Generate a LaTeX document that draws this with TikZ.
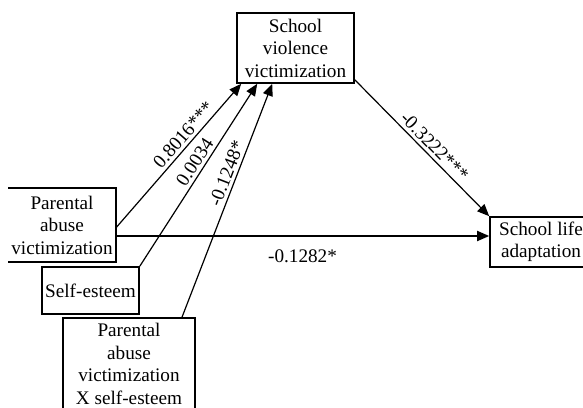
\documentclass[tikz,border=0pt]{standalone}
\usepackage{fontspec}
\setmainfont{Liberation Serif}
\usetikzlibrary{calc,positioning,arrows.meta}

\begin{document}
\begin{tikzpicture}[x=0.5pt,y=-0.5pt,
  varbox/.style={draw,line width=0.8pt,align=center,inner sep=1pt,font=\fontsize{9.6}{11.25}\selectfont},
  link/.style={line width=0.6pt,-{Triangle[length=6pt,width=5pt]}},
  coef/.style={font=\fontsize{9.6}{11.25}\selectfont,sloped,above,inner sep=1.5pt}]
%\draw[step=20,help lines](0,0)grid(583,407);
\clip (0,0) rectangle (583,407);
    \node[varbox,minimum width=58.5pt,minimum height=35pt] (svv) at (295.5,48) {School\\violence\\victimization};
    \node[varbox,draw=none,minimum width=53pt,minimum height=36pt] (pav) at (62,225) {Parental\\abuse\\victimization};
    \draw[line width=0.8pt] (pav.north west)--(pav.north east)--(pav.south east)--(pav.south west);
    \node[varbox,minimum width=48.5pt,minimum height=23.5pt] (se) at (90.5,290.5) {Self-esteem};
    \node[varbox,minimum width=66pt,minimum height=46pt] (ix) at (129,364) {Parental\\abuse\\victimization\\X self-esteem};
    \node[varbox,minimum width=51pt,minimum height=25pt] (sla) at (541,242) {School life\\adaptation};
    \coordinate (h) at ([yshift=-5.5pt]pav.east);
    \draw[link] ([yshift=-1.5pt]pav.east)--node[coef,pos=0.6]{0.8016***}([xshift=2.5pt]svv.south west);
    \draw[link] (se.north east)--node[coef,pos=0.54]{0.0034}([xshift=10.5pt]svv.south west);
    \draw[link] ([xshift=26.5pt]ix.north)--node[coef,pos=0.6]{-0.1248*}([xshift=18pt]svv.south west);
    \draw[link] ([yshift=2pt]svv.south east)--node[coef,pos=0.54]{-0.3222***}(sla.north west);
    \draw[link,line width=0.9pt] (h)--node[coef,below=4.8pt]{-0.1282*}(h-|sla.west);
\end{tikzpicture}
\end{document}
